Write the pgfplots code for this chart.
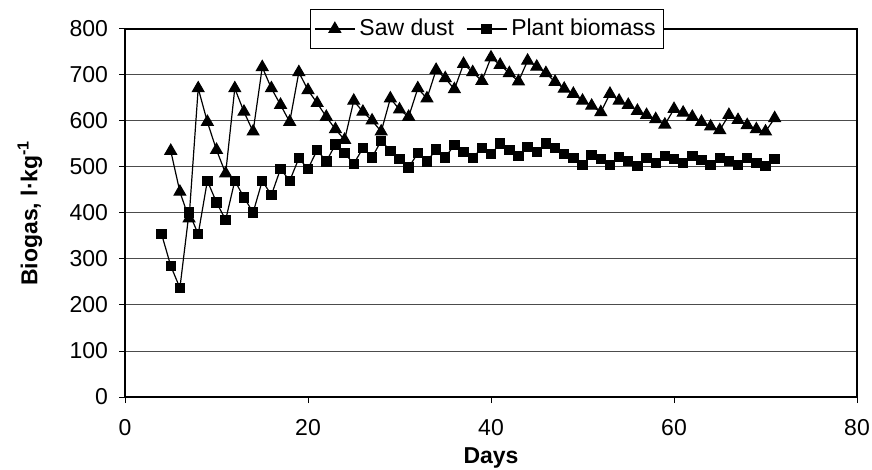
\documentclass[border=0pt]{standalone}
\usepackage{fontspec}
\setmainfont{Liberation Sans}
\usepackage{pgfplots}
\pgfplotsset{compat=1.18}
\pgfplotstableread{
d v
5 535
6 446
7 388
8 671
9 598
10 537
11 486
12 671
13 620
14 577
15 717
16 671
17 635
18 598
19 706
20 667
21 639
22 609
23 582
24 559
25 644
26 620
27 601
28 577
29 649
30 625
31 609
32 671
33 649
34 711
35 693
36 669
37 724
38 706
39 687
40 738
41 722
42 704
43 686
44 731
45 718
46 704
47 685
48 670
49 659
50 644
51 633
52 619
53 659
54 644
55 635
56 622
57 613
58 604
59 592
60 626
61 618
62 609
63 598
64 588
65 580
66 613
67 602
68 591
69 582
70 577
71 606
}\sawdust
\pgfplotstableread{
d v
4 354
5 285
6 237
7 401
8 354
9 470
10 423
11 385
12 470
13 434
14 401
15 470
16 439
17 496
18 470
19 519
20 496
21 537
22 512
23 549
24 530
25 507
26 541
27 521
28 557
29 535
30 517
31 499
32 530
33 512
34 538
35 521
36 548
37 533
38 520
39 541
40 528
41 551
42 537
43 524
44 544
45 533
46 551
47 541
48 528
49 519
50 504
51 526
52 517
53 504
54 522
55 513
56 502
57 519
58 509
59 524
60 517
61 509
62 524
63 515
64 504
65 520
66 513
67 504
68 520
69 509
70 502
71 517
}\plantbio
\begin{document}
\fontsize{11.5}{14}\selectfont
\begin{tikzpicture}
\begin{axis}[
  name=ax,
  width=366pt, height=184pt, scale only axis,
  xmin=0, xmax=80, ymin=0, ymax=800,
  xtick={0,20,40,60,80},
  ytick={0,100,...,800},
  xtick pos=bottom, ytick pos=left,
  tick align=outside,
  major tick length=3pt,
  tick style={black, line width=0.5pt},
  ymajorgrids,
  grid style={black!70, line width=0.5pt},
  axis line style={black, line width=0.6pt},
  /pgf/number format/assume math mode=true,
  ticklabel style={font=\fontsize{11.5}{14}\selectfont},
  yticklabel style={xshift=-1.5pt},
  xticklabel style={yshift=-4pt},
  xlabel={\textbf{Days}},
  ylabel={\textbf{Biogas, l·kg\textsuperscript{-1}}},
  xlabel style={at={(axis description cs:0.5,-0.1658)}, anchor=center},
  ylabel style={at={(axis description cs:-0.1298,0.5)}, anchor=center},
  legend columns=2,
  legend image code/.code={%
    \draw[mark repeat=2, mark phase=2] plot coordinates {(0pt,0pt) (10pt,0pt) (20pt,0pt)};},
  legend style={at={(axis description cs:0.4945,1)}, anchor=center,
    draw=black, fill=white, line width=0.5pt,
    font=\fontsize{11.5}{14}\selectfont,
    inner xsep=2pt, inner ysep=2.5pt,
    /tikz/every even column/.append style={column sep=4pt}},
]
\addplot[black, line width=0.6pt, mark=triangle*, mark size=3.3pt, mark options={solid}] table[x=d,y=v] {\sawdust};
\addlegendentry{Saw dust}
\addplot[black, line width=0.6pt, mark=square*, mark size=2.3pt, mark options={solid}] table[x=d,y=v] {\plantbio};
\addlegendentry{Plant biomass}
\end{axis}
\pgfresetboundingbox
\path ([xshift=-62.5pt,yshift=-36pt]ax.south west) rectangle ([xshift=7.5pt,yshift=14.5pt]ax.north east);
\end{tikzpicture}
\end{document}
